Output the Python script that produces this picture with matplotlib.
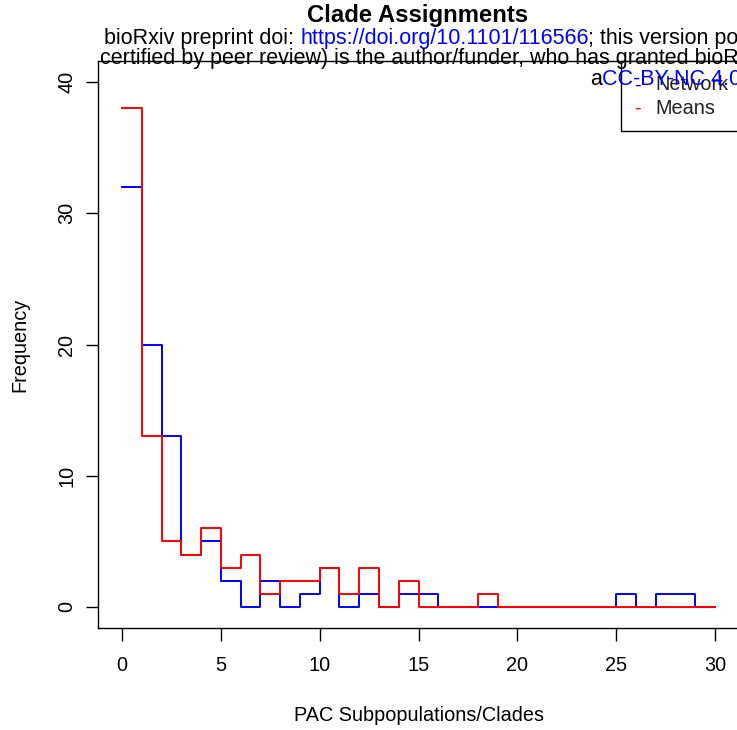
import numpy as np
import matplotlib
matplotlib.use("Agg")
import matplotlib.pyplot as plt
from matplotlib.patches import Rectangle

plt.rcParams['font.family'] = ['Liberation Sans', 'DejaVu Sans']

# ---- data ----
clades = [0, 1, 2, 3, 4, 5, 6, 7, 8, 9, 10, 11, 12, 13, 14, 15,
          16, 17, 18, 19, 20, 21, 22, 23, 24, 25, 26, 27, 28, 29, 30]
network = [32, 20, 13, 4, 5, 2, 0, 2, 0, 1, 3, 0, 1, 0, 1, 1,
           0, 0, 0, 0, 0, 0, 0, 0, 0, 1, 0, 1, 1, 0, 0]
means = [38, 13, 5, 4, 6, 3, 4, 1, 2, 2, 3, 1, 3, 0, 2, 0,
         0, 0, 1, 0, 0, 0, 0, 0, 0, 0, 0, 0, 0, 0, 0]
series_names = ["Network", "Means"]
series_colors = ["#0000FF", "#FF0000"]
xticks = [0, 5, 10, 15, 20, 25, 30]
yticks = [0, 10, 20, 30, 40]
title = "Clade Assignments"
xlabel = "PAC Subpopulations/Clades"
ylabel = "Frequency"

W, H = 737, 730
fig = plt.figure(figsize=(W / 100, H / 100), dpi=100)


def fx(px):
    return px / W


def fy(py):
    return 1 - py / H


ax = fig.add_axes([fx(98.3), fy(628), (738.7 - 98.3) / W, (628 - 61) / H])
ax.set_xlim(-1.2, 31.2)
ax.set_ylim(-1.6, 41.6)

for vals, col in zip([network, means], series_colors):
    ax.step(clades, vals, where='post', color=col, lw=1.4)

ax.set_xticks(xticks)
ax.set_yticks(yticks)
ax.set_xticklabels([str(t) for t in xticks])
ax.set_yticklabels([str(t) for t in yticks], rotation=90, va='center')
ax.tick_params(axis='both', length=9, width=1, direction='out', labelsize=14.3,
               colors='black')
ax.tick_params(axis='x', pad=11.5)
ax.tick_params(axis='y', pad=7)
for s in ax.spines.values():
    s.set_linewidth(1.0)
    s.set_color('black')

ax.set_xlabel(xlabel, fontsize=14.3, labelpad=22)
ax.set_ylabel(ylabel, fontsize=14.3, labelpad=20)

# title
fig.text(fx(418), fy(22), title, ha='center', va='baseline', fontsize=17.2,
         fontweight='bold')

# legend (manual, box anchored at top-right of plot region)
leg_box = Rectangle((fx(621), fy(131)), fx(738.7) - fx(621), fy(61) - fy(131),
                    transform=fig.transFigure, facecolor='white',
                    edgecolor='black', lw=1.0, zorder=5)
fig.patches.append(leg_box)
for i, (name, col) in enumerate(zip(series_names, series_colors)):
    yy = 85 + i * 23
    fig.text(fx(634), fy(yy), "-", color=col, fontsize=14.3, ha='left',
             va='center', zorder=6)
    fig.text(fx(655), fy(yy), name, color='#222222', fontsize=14.3,
             ha='left', va='center', zorder=6)

# bioRxiv watermark overlay
fig.canvas.draw()
renderer = fig.canvas.get_renderer()
wm_fs = 15.5


def seq_text(x0, ybase, parts):
    x = x0
    for txt, col in parts:
        t = fig.text(fx(x), fy(ybase), txt, color=col, fontsize=wm_fs,
                     ha='left', va='baseline', zorder=10)
        bb = t.get_window_extent(renderer=renderer)
        x += bb.width


seq_text(104, 44, [("bioRxiv preprint doi: ", 'black'),
                   ("https://doi.org/10.1101/116566", '#0000FF'),
                   ("; this version posted March 14, 2017. The copyright holder for this preprint (which was not", 'black')])
seq_text(100, 64, [("certified by peer review) is the author/funder, who has granted bioRxiv a license to display the preprint in perpetuity. It is made", 'black')])
seq_text(590, 85, [("a", 'black'), ("CC-BY-NC 4.0", '#0000FF'),
                   (" International license.", 'black')])

fig.savefig("out.png", dpi=100)
